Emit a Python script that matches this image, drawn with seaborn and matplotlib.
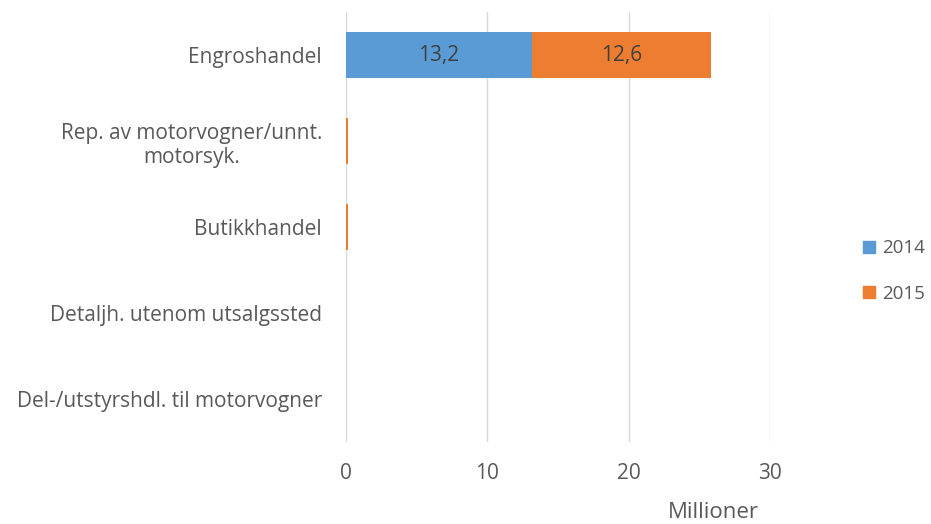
import matplotlib
matplotlib.use("Agg")
import matplotlib.pyplot as plt
import matplotlib.patches as mpatches
import seaborn as sns
import pandas as pd
import numpy as np

categories = ["Engroshandel", "Rep. av motorvogner/unnt.\nmotorsyk.", "Butikkhandel",
              "Detaljh. utenom utsalgssted", "Del-/utstyrshdl. til motorvogner"]
v2014 = [13.2, 0.0, 0.0, 0.0, 0.0]
v2015 = [12.6, 0.15, 0.15, 0.0, 0.0]
series = ["2014", "2015"]
xticks = [0, 10, 20, 30]
xlabel = "Millioner"

C14 = "#5B9BD5"
C15 = "#ED7D31"
TXT = "#595959"
FS = 15

sns.set_theme(style="white")
plt.rcParams["font.family"] = ["Open Sans", "DejaVu Sans"]

fig = plt.figure(figsize=(9.31, 5.24), dpi=100)
ax = fig.add_axes([345.7/931, 1-442/524, (770-345.7)/931, (442-12)/524])

df = pd.DataFrame({"cat": categories, "y2014": v2014, "y2015": v2015})
df["total"] = df["y2014"] + df["y2015"]

sns.barplot(data=df, y="cat", x="total", color=C15, saturation=1, width=0.53,
            orient="h", ax=ax, linewidth=0)
sns.barplot(data=df, y="cat", x="y2014", color=C14, saturation=1, width=0.53,
            orient="h", ax=ax, linewidth=0)

for i, (a, b) in enumerate(zip(v2014, v2015)):
    if a > 1:
        ax.text(a / 2, i, f"{a:.1f}".replace(".", ","), ha="center", va="center",
                fontsize=FS, color="#404040")
    if b > 1:
        ax.text(a + b / 2, i, f"{b:.1f}".replace(".", ","), ha="center", va="center",
                fontsize=FS, color="#404040")

ax.set_xlim(0, 30)
ax.set_xticks(xticks)
ax.set_xticklabels([str(t) for t in xticks])
ax.set_ylim(4.5, -0.5)
ax.xaxis.grid(True, color="#D9D9D9", linewidth=1)
ax.set_axisbelow(True)
for s in ax.spines.values():
    s.set_visible(False)
ax.set_ylabel("")
ax.set_xlabel("")
ax.tick_params(axis="y", length=0, pad=17, labelsize=FS, labelcolor=TXT)
ax.tick_params(axis="x", length=0, pad=15, labelsize=FS, labelcolor=TXT)
for lab in ax.get_yticklabels():
    lab.set_multialignment("center")

fig.text(713/931, 1-513/524, xlabel, ha="center", va="center", fontsize=FS + 1, color=TXT)

handles = [mpatches.Patch(color=C14, label=series[0]), mpatches.Patch(color=C15, label=series[1])]
fig.legend(handles=handles, loc="center left", bbox_to_anchor=(855/931, 1-271/524),
           frameon=False, handlelength=0.65, handleheight=0.65, handletextpad=0.4,
           borderaxespad=0, labelspacing=1.45, fontsize=13.5, labelcolor=TXT)

fig.savefig("out.png", dpi=100)
